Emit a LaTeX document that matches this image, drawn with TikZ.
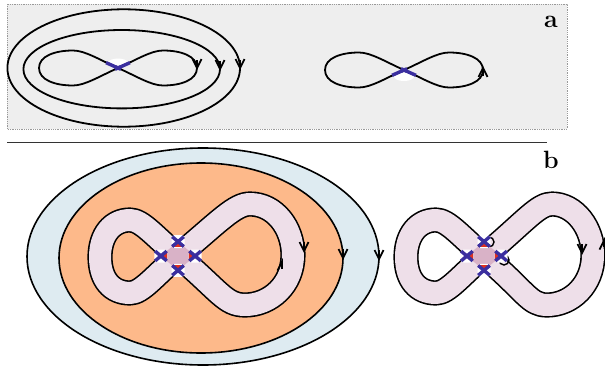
\documentclass[tikz,border=0pt]{standalone}
\usetikzlibrary{arrows.meta,calc}
\definecolor{panelgray}{HTML}{EEEEEE}
\definecolor{skyfill}{HTML}{DEEBF1}
\definecolor{orangefill}{HTML}{FDB98A}
\definecolor{ribbonpink}{HTML}{EEDFE9}
\definecolor{overlapfill}{HTML}{D9B2C7}
\definecolor{xblue}{HTML}{3B2F9F}
\definecolor{xred}{HTML}{E0301E}
\newcommand{\eightA}{(0,0) .. controls (18.3,-8.1) and (33,-17.5) .. (45,-17.5) .. controls (63,-17.5) and (79,-12) .. (79,0) .. controls (79,12) and (63,17.5) .. (45,17.5) .. controls (33,17.5) and (18.3,8.1) .. (0,0) .. controls (-18.3,-8.1) and (-33,-17.5) .. (-45,-17.5) .. controls (-63,-17.5) and (-79,-12) .. (-79,0) .. controls (-79,12) and (-63,17.5) .. (-45,17.5) .. controls (-33,17.5) and (-18.3,8.1) .. cycle}
\newcommand{\ribbonL}{(0,0) .. controls (42.1,-35.4) and (57,-52) .. (72,-52) .. controls (97,-52) and (115,-28) .. (115,-1) .. controls (115,29) and (92,49) .. (67,49) .. controls (47,49) and (42.1,35.4) .. (0,0) .. controls (-23,-19.3) and (-36,-36) .. (-48,-36) .. controls (-66,-36) and (-78,-21) .. (-78,1) .. controls (-78,24) and (-66,37) .. (-48,37) .. controls (-36,37) and (-23,19.3) .. cycle}
\newcommand{\ribbonR}{(0,0) .. controls (42.1,-35.4) and (54,-52) .. (68,-52) .. controls (91,-52) and (109,-28) .. (109,-1) .. controls (109,29) and (87,49) .. (63,49) .. controls (45,49) and (42.1,35.4) .. (0,0) .. controls (-23,-19.3) and (-36,-36) .. (-48,-36) .. controls (-66,-36) and (-78,-21) .. (-78,1) .. controls (-78,24) and (-66,37) .. (-48,37) .. controls (-36,37) and (-23,19.3) .. cycle}
\newcommand{\crossmarks}{%
  \coordinate (Lc) at (-17.1,0);
  \coordinate (Tc) at (0,-14.4);
  \coordinate (Rc) at (17.1,0);
  \coordinate (Bc) at (0,14.4);
  \fill[overlapfill] (Lc) -- (Tc) -- (Rc) -- (Bc) -- cycle;
  \foreach \p/\a/\b in {Lc/Tc/Bc, Tc/Lc/Rc, Rc/Tc/Bc, Bc/Lc/Rc} {
    \fill[white, rounded corners=3pt] ($(\p)+(-6.5,-6.5)$) rectangle ($(\p)+(6.5,6.5)$);
    \fill[xred] (\p) -- ($(\p)!0.36!(\a)$) -- ($(\p)!0.36!(\b)$) -- cycle;
    \draw[xmark] ($(\p)!-0.34!(\a)$) -- ($(\p)!0.34!(\a)$);
    \draw[xmark] ($(\p)!-0.34!(\b)$) -- ($(\p)!0.34!(\b)$);
  }}
\begin{document}
\begin{tikzpicture}[x=1pt,y=-1pt,
  curve/.style={line width=1.8pt, black, line join=round},
  xmark/.style={line width=3.4pt, xblue},
  arr/.style={line width=1.7pt, -{Straight Barb[length=9pt,width=9pt]}},
  harr/.style={line width=1.7pt, -{Straight Barb[length=9pt,width=9pt,harpoon]}},
  lbl/.style={font=\bfseries\fontsize{25}{25}\selectfont, inner sep=0pt}]
\useasboundingbox (0,0) rectangle (605,367);
% panel a
\fill[panelgray] (7,4) rectangle (567,129);
\draw[densely dotted, black!40, line width=0.8pt] (7,4) rectangle (567,129);
\node[lbl] (la) at (551,22) {a};
\draw[curve] (123.7,68) ellipse[x radius=116.3pt, y radius=58.7pt];
\draw[curve] (121.7,69.2) ellipse[x radius=98.3pt, y radius=39.2pt];
\fill[white] (118,63) ellipse[x radius=10pt, y radius=4.5pt];
\begin{scope}[shift={(118,68)}]
  \draw[curve] \eightA;
  \draw[xmark] (-11.9,-5.3) -- (0,0) -- (11.9,-5.3);
  \draw[xmark] (-3,1.3) -- (3,-1.3);
  \draw[xmark] (3,1.3) -- (-3,-1.3);
\end{scope}
\draw[arr] (240,60) -- (240,70);
\draw[arr] (220,61) -- (220,71);
\draw[arr] (197,60) -- (197,70);
\fill[white] (404,76.5) ellipse[x radius=10pt, y radius=4.5pt];
\begin{scope}[shift={(404,70)}]
  \draw[curve] \eightA;
  \draw[xmark] (-11.9,5.3) -- (0,0) -- (11.9,5.3);
  \draw[xmark] (-3,1.3) -- (3,-1.3);
  \draw[xmark] (3,1.3) -- (-3,-1.3);
\end{scope}
\draw[arr] (483,76) -- (483,66);
% separator
\draw[line width=1pt, black!80] (7,142) -- (547,142);
% panel b
\node[lbl] (lb) at (551,160) {b};
\filldraw[fill=skyfill, line width=1.6pt] (203,256.5) ellipse[x radius=176pt, y radius=108.5pt];
\filldraw[fill=orangefill, line width=1.6pt] (201,258) ellipse[x radius=142pt, y radius=95pt];
\draw[arr] (379,250) -- (379,261);
\draw[arr] (343,249) -- (343,260);
\begin{scope}[shift={(178,256)}]
  \draw[line width=25.2pt, black, line join=round] \ribbonL;
  \draw[line width=22pt, ribbonpink, line join=round] \ribbonL;
  \crossmarks
\end{scope}
\draw[arr] (304,242) -- (304,253);
\draw[harr] (282,269) -- (282,258);
\begin{scope}[shift={(484,256)}]
  \draw[line width=25.2pt, black, line join=round] \ribbonR;
  \draw[line width=22pt, ribbonpink, line join=round] \ribbonR;
  \draw[line width=1.4pt] (5,-14) circle[radius=5pt];
  \draw[line width=1.4pt] (20,4) circle[radius=5pt];
  \crossmarks
\end{scope}
\draw[arr] (582,244) -- (582,255);
\draw[harr] (604,247) -- (604,237);
\end{tikzpicture}
\end{document}
